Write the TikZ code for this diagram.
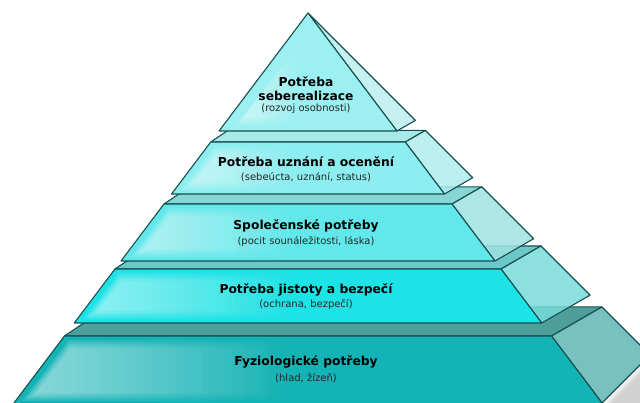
\documentclass[tikz,border=0pt]{standalone}
\usepackage{fontspec}
\setmainfont{DejaVu Sans}
\usetikzlibrary{fadings}
\tikzfading[name=fadeR, left color=transparent!0, right color=transparent!100]
\definecolor{edgec}{HTML}{174F4F}
\definecolor{fA}{HTML}{9CF0F1}\definecolor{sA}{HTML}{BDEFEF}
\definecolor{fB}{HTML}{8CEEF0}\definecolor{sB}{HTML}{B0ECEC}\definecolor{tB}{HTML}{A8EAEA}
\definecolor{fC}{HTML}{62E8EA}\definecolor{sC}{HTML}{9EE2E2}\definecolor{tC}{HTML}{86D6D6}
\definecolor{fD}{HTML}{1EE3E6}\definecolor{sD}{HTML}{78DADA}\definecolor{tD}{HTML}{6CC8C8}
\definecolor{fE}{HTML}{14B3B5}\definecolor{sE}{HTML}{62B6B6}\definecolor{tE}{HTML}{4E9E9C}
\tikzset{
  facet/.style={draw=edgec, line width=1.1pt, line join=round},
  sideface/.style={facet, fill opacity=0.85},
  glow/.style={fill=white, path fading=fadeR, fill opacity=0.13},
  ttl/.style={font=\fontsize{12.3}{14}\selectfont\bfseries, inner sep=0pt, anchor=center},
  sub/.style={font=\fontsize{10}{12}\selectfont, inner sep=0pt, anchor=center, text=black!85},
}
% soft highlight: #1 ttop, #2 tbot
\newcommand\pyrglow[2]{%
  \foreach \g in {0,2,4,6,8}{%
    \fill[glow] ({308-0.754*(#1+4+\g)+7+\g},{13+#1+4+\g}) -- ({296-\g},{13+#1+4+\g})
       -- ({296-\g},{13+#2-4-\g}) -- ({308-0.754*(#2-4-\g)+7+\g},{13+#2-4-\g}) -- cycle;
  }%
}
% #1 ttop, #2 tbot, #3 front, #4 side, #5 top
\newcommand\pyrlayer[5]{%
  \filldraw[facet, fill=#5] ({308-0.754*#1},{13+#1}) -- ({308+0.754*#1},{13+#1})
     -- ({308+0.91*#1},{13+0.91*#1}) -- ({308-0.62*#1},{13+0.91*#1}) -- cycle;
  \filldraw[sideface, fill=#4] ({308+0.754*#1},{13+#1}) -- ({308+0.754*#2},{13+#2})
     -- ({308+0.91*#2},{13+0.91*#2}) -- ({308+0.91*#1},{13+0.91*#1}) -- cycle;
  \filldraw[facet, fill=#3] ({308-0.754*#1},{13+#1}) -- ({308+0.754*#1},{13+#1})
     -- ({308+0.754*#2},{13+#2}) -- ({308-0.754*#2},{13+#2}) -- cycle;
  \pyrglow{#1}{#2}%
}
\begin{document}
\begin{tikzpicture}[x=1pt,y=-1pt]
\useasboundingbox (0,0) rectangle (640,403);
\clip (0,0) rectangle (640,403);
% soft shadow at bottom right
\foreach \s in {1,...,10}{
  \fill[black, fill opacity=0.018] ({650+\s},{355}) -- ({601+\s},{404}) -- (700,404) -- cycle;
}
% bottom layer (cut by the picture edge)
\filldraw[facet, fill=tE] ({308-0.754*323},336) -- ({308+0.754*323},336)
   -- ({308+0.91*323},{13+0.91*323}) -- ({308-0.62*323},{13+0.91*323}) -- cycle;
\filldraw[sideface, fill=sE] ({308+0.754*323},336) -- ({308+0.91*323},{13+0.91*323})
   -- (650,355) -- (601,404) -- ({308+0.754*391},404) -- cycle;
\filldraw[facet, fill=fE] ({308-0.754*323},336) -- ({308+0.754*323},336)
   -- ({308+0.754*396},409) -- ({308-0.754*396},409) -- cycle;
\pyrglow{323}{392}
\pyrlayer{256}{310}{fD}{sD}{tD}
\pyrlayer{191}{248}{fC}{sC}{tC}
\pyrlayer{129}{181}{fB}{sB}{tB}
% top triangle
\filldraw[sideface, fill=sA] (308,13) -- ({308+0.754*118},131) -- ({308+0.91*118},{13+0.91*118}) -- cycle;
\filldraw[facet, fill=fA] (308,13) -- ({308+0.754*118},131) -- ({308-0.754*118},131) -- cycle;
\foreach \g in {0,2,4,6,8}{
  \fill[glow] ({298-0.6*\g},{45+\g}) -- ({302-\g},{45+\g}) -- ({302-\g},{125-\g}) -- ({236+\g},{125-\g}) -- cycle;
}

\node[ttl] (t1a) at (306,82) {Potřeba};
\node[ttl] (t1b) at (306,95.5) {seberealizace};
\node[sub] (s1) at (306,108.5) {(rozvoj osobnosti)};
\node[ttl] (t2) at (306,162) {Potřeba uznání a ocenění};
\node[sub] (s2) at (306,177) {(sebeúcta, uznání, status)};
\node[ttl] (t3) at (306,225.5) {Společenské potřeby};
\node[sub] (s3) at (306,241.5) {(pocit sounáležitosti, láska)};
\node[ttl] (t4) at (306,290) {Potřeba jistoty a bezpečí};
\node[sub] (s4) at (306,305) {(ochrana, bezpečí)};
\node[ttl] (t5) at (306,361.5) {Fyziologické potřeby};
\node[sub] (s5) at (306,378) {(hlad, žízeň)};
\end{tikzpicture}
\end{document}
